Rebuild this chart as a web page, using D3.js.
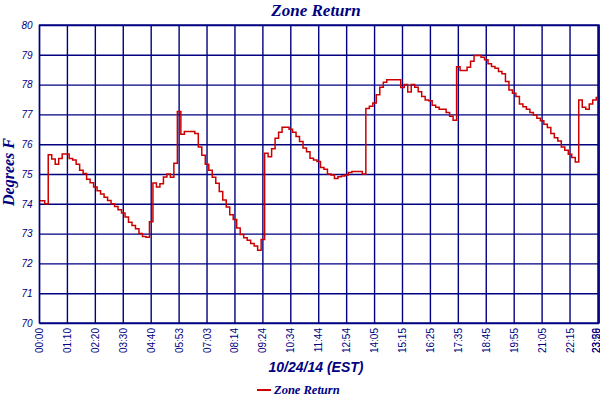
<!DOCTYPE html>
<html>
<head>
<meta charset="utf-8">
<script src="https://cdn.jsdelivr.net/npm/d3@7"></script>
<style>
  body { margin: 0; background: #fff; }
  svg { display: block; }
</style>
</head>
<body>
<script>
// one reading every 1/8 of a tick interval
var samplesPerTick = 8;

var tickLabels = ["00:00", "01:10", "02:20", "03:30", "04:40", "05:53", "07:03",
    "08:14", "09:24", "10:34", "11:44", "12:54", "14:05", "15:15", "16:25",
    "17:35", "18:45", "19:55", "21:05", "22:15", "23:26"];
var endLabel = "23:59";

var yTicks = [70, 71, 72, 73, 74, 75, 76, 77, 78, 79, 80];

var zoneReturn = [
    74.1, 74.1, 74.0, 75.65, 75.5, 75.33, 75.52, 75.67, 75.67, 75.52,
    75.47, 75.33, 75.13, 75.02, 74.82, 74.71, 74.56, 74.44, 74.33, 74.22,
    74.11, 74.0, 73.91, 73.8, 73.69, 73.56, 73.38, 73.27, 73.16, 73.0,
    72.9, 72.88, 73.4, 74.7, 74.56, 74.67, 74.9, 75.0, 74.89, 75.36,
    77.1, 76.33, 76.43, 76.43, 76.43, 76.36, 75.91, 75.63, 75.33, 75.13,
    74.89, 74.69, 74.41, 74.13, 73.89, 73.63, 73.47, 73.19, 72.97, 72.86,
    72.78, 72.67, 72.58, 72.44, 72.8, 75.7, 75.58, 75.85, 76.2, 76.4,
    76.57, 76.57, 76.5, 76.4, 76.26, 76.09, 75.87, 75.75, 75.53, 75.47,
    75.42, 75.22, 75.16, 75.0, 74.97, 74.85, 74.91, 74.93, 74.97, 75.05,
    75.08, 75.08, 75.08, 75.0, 77.2, 77.27, 77.38, 77.66, 77.91, 78.08,
    78.16, 78.16, 78.16, 78.16, 77.9, 78.0, 77.75, 78.0, 77.91, 77.76,
    77.6, 77.48, 77.46, 77.31, 77.24, 77.17, 77.17, 77.06, 76.94, 76.8,
    78.6, 78.47, 78.47, 78.58, 78.78, 78.98, 78.98, 78.92, 78.83, 78.7,
    78.61, 78.55, 78.44, 78.36, 78.1, 77.82, 77.71, 77.6, 77.35, 77.26,
    77.17, 77.06, 76.98, 76.87, 76.79, 76.67, 76.56, 76.36, 76.22, 76.11,
    75.91, 75.8, 75.66, 75.55, 75.4, 77.48, 77.24, 77.17, 77.35, 77.48,
    77.57
];

var width = 600;
var height = 400;
var navy = "#000080";
var plotLeft = 39.5, plotRight = 599, plotTop = 25, plotBottom = 323;

var svg = d3.select("body")
    .append("svg")
    .attr("width", width)
    .attr("height", height);

var lastIndex = (tickLabels.length - 1) * samplesPerTick + 0.3;

var x = d3.scaleLinear()
    .domain([0, lastIndex])
    .range([plotLeft, plotRight]);

var y = d3.scaleLinear()
    .domain([70, 80])
    .range([plotBottom, plotTop]);

var ticks = tickLabels.map(function(d, i) { return {label: d, index: i * samplesPerTick}; });
ticks.push({label: endLabel, index: lastIndex});

// horizontal grid + y labels
var yAxis = d3.axisLeft(y)
    .tickValues(yTicks)
    .tickSize(-(plotRight - plotLeft))
    .tickPadding(7)
    .tickFormat(d3.format("d"));

var gy = svg.append("g")
    .attr("transform", "translate(" + plotLeft + ",0)")
    .call(yAxis);
gy.select(".domain").remove();
gy.selectAll("line").attr("stroke", navy).attr("stroke-width", 1.4);
gy.selectAll("text")
    .attr("fill", navy)
    .style("font-family", "'Liberation Sans', Arial, sans-serif")
    .style("font-style", "italic")
    .style("font-size", "10px");

// vertical grid
svg.append("g")
    .selectAll("line")
    .data(ticks)
    .enter()
    .append("line")
    .attr("x1", function(d) { return x(d.index); })
    .attr("x2", function(d) { return x(d.index); })
    .attr("y1", plotTop)
    .attr("y2", plotBottom)
    .attr("stroke", navy)
    .attr("stroke-width", 1.4);

// labels at the right edge are kept inside the picture, overlapping as in the original
svg.append("g")
    .selectAll("text")
    .data(ticks)
    .enter()
    .append("text")
    .attr("transform", function(d) {
        var px = Math.min(x(d.index), width - 4);
        return "translate(" + px + "," + (plotBottom + 5) + ") rotate(-90)";
    })
    .attr("dy", "0.35em")
    .attr("text-anchor", "end")
    .attr("fill", navy)
    .style("font-family", "'Liberation Sans', Arial, sans-serif")
    .style("font-size", "10px")
    .text(function(d) { return d.label; });

// the data line
var line = d3.line()
    .x(function(d, i) { return x(i); })
    .y(function(d) { return y(d); })
    .curve(d3.curveStep);

svg.append("path")
    .datum(zoneReturn)
    .attr("d", line)
    .attr("fill", "none")
    .attr("stroke", "#cc0000")
    .attr("stroke-width", 1.5);

// frame
svg.append("rect")
    .attr("x", plotLeft)
    .attr("y", plotTop)
    .attr("width", plotRight - plotLeft)
    .attr("height", plotBottom - plotTop)
    .attr("fill", "none")
    .attr("stroke", navy)
    .attr("stroke-width", 1.4);

// titles
svg.append("text")
    .attr("x", 316)
    .attr("y", 16)
    .attr("text-anchor", "middle")
    .attr("fill", navy)
    .style("font-family", "'Liberation Serif', 'Times New Roman', serif")
    .style("font-style", "italic")
    .style("font-weight", "bold")
    .style("font-size", "17px")
    .text("Zone Return");

svg.append("text")
    .attr("transform", "translate(14," + 172 + ") rotate(-90)")
    .attr("text-anchor", "middle")
    .attr("fill", navy)
    .style("font-family", "'Liberation Serif', 'Times New Roman', serif")
    .style("font-style", "italic")
    .style("font-weight", "bold")
    .style("font-size", "16px")
    .text("Degrees F");

svg.append("text")
    .attr("x", 316)
    .attr("y", 372)
    .attr("text-anchor", "middle")
    .attr("fill", navy)
    .style("font-family", "'Liberation Sans', Arial, sans-serif")
    .style("font-style", "italic")
    .style("font-weight", "bold")
    .style("font-size", "14px")
    .text("10/24/14 (EST)");

// legend
svg.append("line")
    .attr("x1", 257)
    .attr("x2", 271)
    .attr("y1", 390)
    .attr("y2", 390)
    .attr("stroke", "#cc0000")
    .attr("stroke-width", 2);

svg.append("text")
    .attr("x", 274)
    .attr("y", 394)
    .attr("fill", navy)
    .style("font-family", "'Liberation Serif', 'Times New Roman', serif")
    .style("font-style", "italic")
    .style("font-weight", "bold")
    .style("font-size", "12.5px")
    .text("Zone Return");
</script>
</body>
</html>
